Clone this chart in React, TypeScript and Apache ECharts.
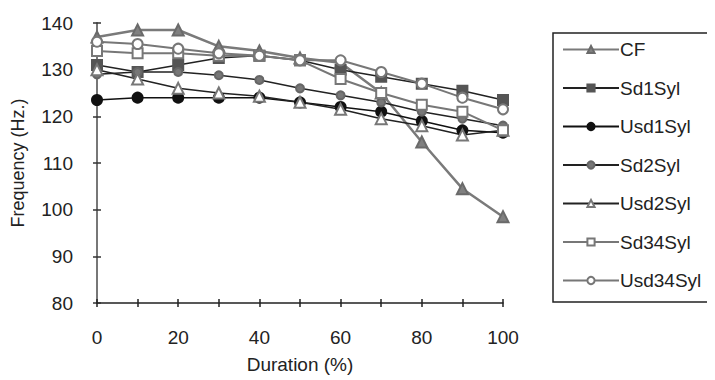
import React, { useEffect, useRef } from "react";
import * as echarts from "echarts";

const durations = [0, 10, 20, 30, 40, 50, 60, 70, 80, 90, 100];
const cf = [137, 138.5, 138.5, 135, 134, 132.5, 131.5, 125, 114.5, 104.5, 98.5];
const sd1Syl = [131, 129.5, 131, 132.5, 133, 132, 130, 128.5, 127, 125.5, 123.5];
const usd1Syl = [123.5, 124, 124, 124, 124, 123, 122, 121, 119, 117, 116.5];
const sd2Syl = [129, 129.5, 129.5, 128.8, 127.8, 126, 124.5, 123, 121, 119.5, 118];
const usd2Syl = [130, 128, 126, 125, 124.3, 123, 121.5, 119.5, 118, 116, 117];
const sd34Syl = [134, 133.5, 133.5, 133, 133, 132, 128, 125, 122.5, 121, 117];
const usd34Syl = [136, 135.5, 134.5, 133.5, 133, 132, 132, 129.5, 127, 124, 121.5];
const yTicks = [80, 90, 100, 110, 120, 130, 140];

const FONT = "'Liberation Sans', Arial, sans-serif";
const FS = 19;

export default function App() {
  const ref = useRef<HTMLDivElement>(null);
  useEffect(() => {
    if (!ref.current) return;
    const chart = echarts.init(ref.current, undefined, { renderer: "svg" });
    const pairs = (vals: number[]) => durations.map((d, i) => [d, vals[i]]);
    const mk = (
      name: string,
      vals: number[],
      symbol: string,
      size: number,
      fill: string,
      border: string,
      lineColor: string,
      lineWidth: number
    ) => ({
      name,
      type: "line",
      data: pairs(vals),
      symbol,
      symbolSize: size,
      showAllSymbol: true,
      lineStyle: { color: lineColor, width: lineWidth },
      itemStyle: { color: fill, borderColor: border, borderWidth: 2 },
      emphasis: { disabled: true },
    });
    chart.setOption({
      animation: false,
      backgroundColor: "#fff",
      grid: { left: 97, right: 212, top: 23, bottom: 77 },
      xAxis: [
        {
          type: "value",
          position: "bottom",
          min: 0,
          max: 100,
          interval: 10,
          name: "Duration (%)",
          nameLocation: "middle",
          nameGap: 52,
          nameTextStyle: { fontFamily: FONT, fontSize: FS, color: "#222" },
          axisLine: { lineStyle: { color: "#222", width: 1.5 } },
          axisTick: { length: 4, lineStyle: { color: "#222", width: 1.5 } },
          axisLabel: {
            margin: 25,
            fontFamily: FONT,
            fontSize: FS,
            color: "#222",
            formatter: (v: number) => (v % 20 === 0 ? String(v) : ""),
          },
          splitLine: { show: false },
        },
        {
          type: "value",
          position: "bottom",
          min: 0,
          max: 100,
          interval: 10,
          axisLine: { show: false },
          axisTick: { inside: true, length: 4, lineStyle: { color: "#222", width: 1.5 } },
          axisLabel: { show: false },
          splitLine: { show: false },
        },
      ],
      yAxis: [
        {
          type: "value",
          position: "left",
          min: yTicks[0],
          max: yTicks[yTicks.length - 1],
          interval: 10,
          name: "Frequency (Hz.)",
          nameLocation: "middle",
          nameGap: 70,
          nameTextStyle: { fontFamily: FONT, fontSize: FS - 1, color: "#222" },
          axisLine: { lineStyle: { color: "#777", width: 2 } },
          axisTick: { length: 4, lineStyle: { color: "#333", width: 1.5 } },
          axisLabel: { margin: 24, fontFamily: FONT, fontSize: FS, color: "#222" },
          splitLine: { show: false },
        },
        {
          type: "value",
          position: "left",
          min: yTicks[0],
          max: yTicks[yTicks.length - 1],
          interval: 10,
          axisLine: { show: false },
          axisTick: { inside: true, length: 4, lineStyle: { color: "#333", width: 1.5 } },
          axisLabel: { show: false },
          splitLine: { show: false },
        },
      ],
      legend: {
        orient: "vertical",
        left: 553,
        top: 33,
        padding: [7, 8, 12, 9],
        itemWidth: 56,
        itemHeight: 9,
        itemGap: 19.5,
        borderColor: "#222",
        borderWidth: 1.5,
        textStyle: { fontFamily: FONT, fontSize: FS, lineHeight: 19, color: "#222", padding: [0, 0, 0, -4] },
        data: ["CF", "Sd1Syl", "Usd1Syl", "Sd2Syl", "Usd2Syl", "Sd34Syl", "Usd34Syl"],
      },
      series: [
        mk("CF", cf, "triangle", 11, "#808080", "#6a6a6a", "#7a7a7a", 2.5),
        mk("Sd1Syl", sd1Syl, "rect", 10, "#555", "#555", "#222", 1.5),
        mk("Usd1Syl", usd1Syl, "circle", 10, "#111", "#111", "#111", 1.5),
        mk("Sd2Syl", sd2Syl, "circle", 8, "#777", "#666", "#222", 1.5),
        mk("Usd2Syl", usd2Syl, "triangle", 11, "#fff", "#777", "#222", 1.5),
        mk("Sd34Syl", sd34Syl, "rect", 10, "#fff", "#777", "#777", 2),
        mk("Usd34Syl", usd34Syl, "circle", 10, "#fff", "#777", "#777", 2),
      ],
    });
    return () => chart.dispose();
  }, []);
  return <div ref={ref} style={{ width: 715, height: 380, marginLeft: -8, marginTop: -8 }} />;
}
